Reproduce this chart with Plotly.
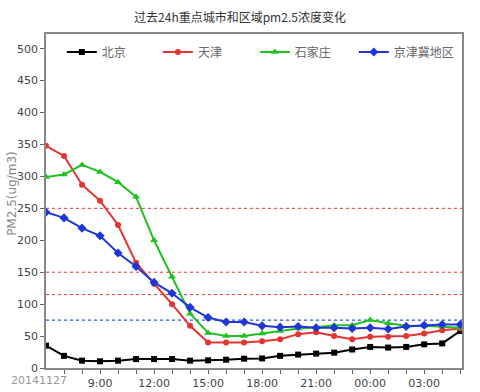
import plotly.graph_objects as go

hours = list(range(6, 30))  # 6:00 on 2014-11-27 .. 05:00 next day
beijing = [35, 19, 11.5, 10.5, 11.5, 14, 14, 14, 11.5, 12, 13, 14.6, 15, 19, 21, 22.5,
           24, 29, 33, 32, 33, 37, 38.5, 58]
tianjin = [348, 332, 287, 262, 224, 165, 132, 100, 66, 40, 40, 40, 42, 45, 53, 56,
           50, 45, 49, 49, 50, 54, 59, 62]
shijiazhuang = [299, 303, 318, 307, 291, 268, 200, 143, 85, 55, 50, 50, 54, 58, 62, 64,
                67, 67, 75, 70, 66, 66, 65, 63]
jjj = [244, 235, 219, 207, 180, 159, 134, 117, 95, 79, 72, 72, 66, 64, 65, 63,
       63, 62, 63, 61, 65, 67, 68, 68]

red_limits = [250, 150, 115]
blue_limits = [75]

tick_vals = [9, 12, 15, 18, 21, 24, 27]
tick_text = ["9:00", "12:00", "15:00", "18:00", "21:00", "00:00", "03:00"]
date_label = "20141127"
y_title = "PM2.5(ug/m3)"

series = [
    ("北京", beijing, "#000000", "square", 6),
    ("天津", tianjin, "#e3342f", "circle", 6),
    ("石家庄", shijiazhuang, "#1fc21f", "triangle-up", 7),
    ("京津冀地区", jjj, "#1f35d6", "diamond", 7),
]
legend_x = [0.038, 0.269, 0.502, 0.74]
legend_ids = ["legend", "legend2", "legend3", "legend4"]

fig = go.Figure()
for (name, vals, col, sym, sz), lid in zip(series, legend_ids):
    fig.add_trace(go.Scatter(x=hours, y=vals, name=name, mode="lines+markers",
                             line=dict(color=col, width=2),
                             marker=dict(symbol=sym, size=sz, color=col),
                             legend=lid))

for v in red_limits:
    fig.add_hline(y=v, line=dict(color="#ee3333", width=1, dash="dot"), layer="below")
for v in blue_limits:
    fig.add_hline(y=v, line=dict(color="#2255ff", width=1.2, dash="dot"), layer="below")

fig.add_annotation(x=-0.017, xref="paper", y=0, yref="paper", yshift=-4,
                   text=date_label, showarrow=False, xanchor="center", yanchor="top",
                   font=dict(size=11, color="#999999", family="DejaVu Sans"))
fig.add_annotation(x=-0.082, xref="paper", y=0.524, yref="paper", text=y_title,
                   textangle=-90, showarrow=False, xanchor="center", yanchor="middle",
                   font=dict(size=12, color="#888888", family="DejaVu Sans"))

leg_common = dict(y=0.946, xanchor="left", yanchor="middle", bgcolor="rgba(0,0,0,0)",
                  font=dict(size=12, color="#666666", family="Noto Sans CJK SC"),
                  itemwidth=30)
legends = {lid: dict(x=lx, **leg_common) for lid, lx in zip(legend_ids, legend_x)}

fig.update_layout(
    width=480, height=392,
    margin=dict(l=46, r=18, t=34, b=24, autoexpand=False),
    paper_bgcolor="white", plot_bgcolor="white",
    title=dict(text="过去24h重点城市和区域pm2.5浓度变化", x=0.5, xanchor="center",
               y=0.955, yanchor="middle",
               font=dict(size=12, color="#333333", family="Noto Sans CJK SC")),
    font=dict(family="DejaVu Sans", size=11, color="#444444"),
    showlegend=True,
    **legends,
    xaxis=dict(range=[6, 29.1], tickmode="array", automargin=False,
               tickvals=list(range(7, 30)),
               ticktext=[tick_text[tick_vals.index(h)] if h in tick_vals else "" for h in range(7, 30)],
               ticks="outside", ticklen=4, tickcolor="#666666",
               showgrid=False, zeroline=False, showline=True, linecolor="#888888",
               linewidth=1.5, mirror=True, tickfont=dict(size=11, color="#444444")),
    yaxis=dict(range=[0, 523], tickvals=[0, 50, 100, 150, 200, 250, 300, 350, 400, 450, 500],
               automargin=False,
               ticks="outside", ticklen=4, tickcolor="#666666",
               showgrid=False, zeroline=False, showline=True, linecolor="#888888",
               linewidth=1.5, mirror=True,
               tickfont=dict(size=11, color="#444444")),
)

fig.write_html("out.html", config={"displayModeBar": False},
               post_script="document.body.style.margin='0';document.body.style.padding='0';")
